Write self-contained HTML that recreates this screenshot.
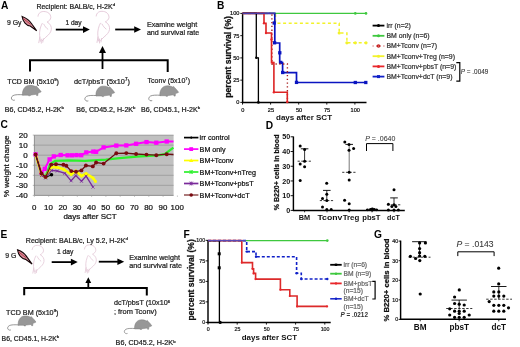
<!DOCTYPE html>
<html><head><meta charset="utf-8"><style>
html,body{margin:0;padding:0;background:#fff;width:520px;height:347px;overflow:hidden}
svg{display:block;font-family:"Liberation Sans", sans-serif;filter:blur(0.3px)}
</style></head><body>
<svg width="520" height="347" viewBox="0 0 520 347">
<rect width="520" height="347" fill="#fff"/>
<text x="1" y="8.7" font-size="10.2" font-weight="bold" text-anchor="start" fill="#000"  >A</text>
<text x="216.9" y="8.7" font-size="10.2" font-weight="bold" text-anchor="start" fill="#000"  >B</text>
<text x="0.6" y="128.0" font-size="10.2" font-weight="bold" text-anchor="start" fill="#000"  >C</text>
<text x="265.8" y="129.0" font-size="10.2" font-weight="bold" text-anchor="start" fill="#000"  >D</text>
<text x="0.6" y="238.0" font-size="10.2" font-weight="bold" text-anchor="start" fill="#000"  >E</text>
<text x="183.6" y="237.7" font-size="10.2" font-weight="bold" text-anchor="start" fill="#000"  >F</text>
<text x="374.0" y="237.8" font-size="10.2" font-weight="bold" text-anchor="start" fill="#000"  >G</text>
<g transform="translate(-58.2 0.2) scale(1.0)" fill="none" stroke="#e2c4d4" stroke-width="0.85" stroke-linecap="round"><path d="M96.2,16 C96.5,12.5 99.5,11.2 102,11.3 C106,11.4 109,13.5 109,17.5 C108.8,19.5 107,21 105.3,21.8 C108.5,23.5 110,26.5 109.5,29.5 C109,32.5 107,34.5 104,37 L100.5,40.5"/><path d="M100.4,23.2 C98.5,26.5 97.5,31 97.8,35.2 L98.6,41"/><path d="M98,37 L97,42.5 M99.5,39 L99.5,43 M101.5,38.5 L101,42"/><path d="M102,24 C103,26 104.5,28 106,29"/></g>
<g transform="translate(0 0) scale(1.0)" fill="none" stroke="#e2c4d4" stroke-width="0.85" stroke-linecap="round"><path d="M96.2,16 C96.5,12.5 99.5,11.2 102,11.3 C106,11.4 109,13.5 109,17.5 C108.8,19.5 107,21 105.3,21.8 C108.5,23.5 110,26.5 109.5,29.5 C109,32.5 107,34.5 104,37 L100.5,40.5"/><path d="M100.4,23.2 C98.5,26.5 97.5,31 97.8,35.2 L98.6,41"/><path d="M98,37 L97,42.5 M99.5,39 L99.5,43 M101.5,38.5 L101,42"/><path d="M102,24 C103,26 104.5,28 106,29"/></g>
<g transform="translate(0 0) scale(1.0)"><path d="M22.1,16.4 C25.5,17.6 29.8,20.6 32,24.2 L36.7,30.7 L30.2,26.0 C26.5,25.6 22.8,21.8 22.1,16.4 Z" fill="#d8909c" stroke="#140406" stroke-width="1.1"/><path d="M23.6,18.8 L30.4,24.2" stroke="#b02838" stroke-width="0.8"/></g>
<line x1="55.8" y1="29.6" x2="83.5" y2="29.6" stroke="#000" stroke-width="1.8" />
<polygon points="83.00,26.30 89.80,29.60 83.00,32.90" fill="#000" />
<line x1="115.2" y1="29.5" x2="134.7" y2="29.5" stroke="#000" stroke-width="1.8" />
<polygon points="134.20,26.20 141.00,29.50 134.20,32.80" fill="#000" />
<polyline points="30.00,71.40 30.00,60.30 167.70,60.30 167.70,72.10" fill="none" stroke="#000" stroke-width="2.0" stroke-linejoin="miter" />
<line x1="102.5" y1="69.0" x2="102.5" y2="52.4" stroke="#000" stroke-width="1.8" />
<polygon points="99.00,52.90 102.50,46.00 106.00,52.90" fill="#000" />
<text x="36.4" y="9.1" font-size="7.0" font-weight="normal" text-anchor="start" fill="#222" stroke="#222" stroke-width="0.22" >Recipient: BALB/c, H-2K<tspan font-size="4.3" dy="-2.8">d</tspan></text>
<text x="6.9" y="24.8" font-size="6.9" font-weight="normal" text-anchor="start" fill="#222" stroke="#222" stroke-width="0.22" >9 Gy</text>
<text x="65.4" y="25.0" font-size="6.6" font-weight="normal" text-anchor="start" fill="#222" stroke="#222" stroke-width="0.22" >1 day</text>
<text x="146.9" y="26.9" font-size="7.15" font-weight="normal" text-anchor="start" fill="#222" stroke="#222" stroke-width="0.22" >Examine weight</text>
<text x="146.9" y="35.0" font-size="7.15" font-weight="normal" text-anchor="start" fill="#222" stroke="#222" stroke-width="0.22" >and survival rate</text>
<text x="7.3" y="83.5" font-size="7.1" font-weight="normal" text-anchor="start" fill="#222" stroke="#222" stroke-width="0.22" >TCD BM (5x10<tspan font-size="4.3" dy="-2.8">9</tspan><tspan dy="2.8">)</tspan></text>
<text x="74.0" y="83.8" font-size="7.35" font-weight="normal" text-anchor="start" fill="#222" stroke="#222" stroke-width="0.22" >dcT/pbsT (5x10<tspan font-size="4.6" dy="-2.8">7</tspan><tspan dy="2.8">)</tspan></text>
<text x="147.6" y="83.0" font-size="7.0" font-weight="normal" text-anchor="start" fill="#222" stroke="#222" stroke-width="0.22" >Tconv (5x10<tspan font-size="4.3" dy="-2.8">7</tspan><tspan dy="2.8">)</tspan></text>
<text x="4.8" y="112.0" font-size="7.1" font-weight="normal" text-anchor="start" fill="#222" stroke="#222" stroke-width="0.22" >B6, CD45.2, H-2K<tspan font-size="4.3" dy="-2.8">b</tspan></text>
<text x="76.3" y="112.0" font-size="7.1" font-weight="normal" text-anchor="start" fill="#222" stroke="#222" stroke-width="0.22" >B6, CD45.2, H-2K<tspan font-size="4.3" dy="-2.8">b</tspan></text>
<text x="141.0" y="112.0" font-size="7.1" font-weight="normal" text-anchor="start" fill="#222" stroke="#222" stroke-width="0.22" >B6, CD45.1, H-2K<tspan font-size="4.3" dy="-2.8">b</tspan></text>
<g transform="translate(0 0) scale(1.0)"><path d="M23.5,94.8 C19,94.5 15,94.5 13,95.6 C11,96.8 10.8,99 12.5,100 C13.2,100.4 14,100.4 14.8,100.1" fill="none" stroke="#7a7a7a" stroke-width="0.8"/><path d="M22.5,95.2 C22,90.5 24.5,85.8 28.8,85.4 C31.8,85.1 34,85.8 35.4,86.6 L36.2,85.9 L37.3,87.2 C38.6,88.4 40.3,90.3 41.2,91.8 C40.2,92.5 38.8,92.8 38,93.2 L37.8,95.6 L36.6,95.6 L36.3,94.3 L31,95 L30,95.8 L28.6,95.8 L28.6,95.2 Z" fill="#979797" stroke="#7a7a7a" stroke-width="0.5"/></g>
<g transform="translate(73.5 0.7999999999999972) scale(1.0)"><path d="M23.5,94.8 C19,94.5 15,94.5 13,95.6 C11,96.8 10.8,99 12.5,100 C13.2,100.4 14,100.4 14.8,100.1" fill="none" stroke="#7a7a7a" stroke-width="0.8"/><path d="M22.5,95.2 C22,90.5 24.5,85.8 28.8,85.4 C31.8,85.1 34,85.8 35.4,86.6 L36.2,85.9 L37.3,87.2 C38.6,88.4 40.3,90.3 41.2,91.8 C40.2,92.5 38.8,92.8 38,93.2 L37.8,95.6 L36.6,95.6 L36.3,94.3 L31,95 L30,95.8 L28.6,95.8 L28.6,95.2 Z" fill="#979797" stroke="#7a7a7a" stroke-width="0.5"/></g>
<g transform="translate(137.4 0.5) scale(1.0)"><path d="M23.5,94.8 C19,94.5 15,94.5 13,95.6 C11,96.8 10.8,99 12.5,100 C13.2,100.4 14,100.4 14.8,100.1" fill="none" stroke="#7a7a7a" stroke-width="0.8"/><path d="M22.5,95.2 C22,90.5 24.5,85.8 28.8,85.4 C31.8,85.1 34,85.8 35.4,86.6 L36.2,85.9 L37.3,87.2 C38.6,88.4 40.3,90.3 41.2,91.8 C40.2,92.5 38.8,92.8 38,93.2 L37.8,95.6 L36.6,95.6 L36.3,94.3 L31,95 L30,95.8 L28.6,95.8 L28.6,95.2 Z" fill="#979797" stroke="#7a7a7a" stroke-width="0.5"/></g>
<line x1="242.6" y1="13.0" x2="242.6" y2="103.2" stroke="#000" stroke-width="1.45" />
<line x1="242.0" y1="102.4" x2="366.5" y2="102.4" stroke="#000" stroke-width="1.45" />
<line x1="240.3" y1="13.400000000000006" x2="242.6" y2="13.400000000000006" stroke="#000" stroke-width="0.9" />
<text x="239.4" y="15.400000000000006" font-size="5.6" font-weight="normal" text-anchor="end" fill="#111" stroke="#111" stroke-width="0.22" >100</text>
<line x1="240.3" y1="35.650000000000006" x2="242.6" y2="35.650000000000006" stroke="#000" stroke-width="0.9" />
<text x="239.4" y="37.650000000000006" font-size="5.6" font-weight="normal" text-anchor="end" fill="#111" stroke="#111" stroke-width="0.22" >75</text>
<line x1="240.3" y1="57.900000000000006" x2="242.6" y2="57.900000000000006" stroke="#000" stroke-width="0.9" />
<text x="239.4" y="59.900000000000006" font-size="5.6" font-weight="normal" text-anchor="end" fill="#111" stroke="#111" stroke-width="0.22" >50</text>
<line x1="240.3" y1="80.15" x2="242.6" y2="80.15" stroke="#000" stroke-width="0.9" />
<text x="239.4" y="82.15" font-size="5.6" font-weight="normal" text-anchor="end" fill="#111" stroke="#111" stroke-width="0.22" >25</text>
<line x1="240.3" y1="102.4" x2="242.6" y2="102.4" stroke="#000" stroke-width="0.9" />
<text x="239.4" y="104.4" font-size="5.6" font-weight="normal" text-anchor="end" fill="#111" stroke="#111" stroke-width="0.22" >0</text>
<line x1="242.5" y1="102.4" x2="242.5" y2="104.6" stroke="#000" stroke-width="0.9" />
<text x="242.8" y="112.2" font-size="5.6" font-weight="normal" text-anchor="middle" fill="#111" stroke="#111" stroke-width="0.22" >0</text>
<line x1="270.6" y1="102.4" x2="270.6" y2="104.6" stroke="#000" stroke-width="0.9" />
<text x="270.90000000000003" y="112.2" font-size="5.6" font-weight="normal" text-anchor="middle" fill="#111" stroke="#111" stroke-width="0.22" >25</text>
<line x1="298.7" y1="102.4" x2="298.7" y2="104.6" stroke="#000" stroke-width="0.9" />
<text x="299.0" y="112.2" font-size="5.6" font-weight="normal" text-anchor="middle" fill="#111" stroke="#111" stroke-width="0.22" >50</text>
<line x1="326.8" y1="102.4" x2="326.8" y2="104.6" stroke="#000" stroke-width="0.9" />
<text x="327.1" y="112.2" font-size="5.6" font-weight="normal" text-anchor="middle" fill="#111" stroke="#111" stroke-width="0.22" >75</text>
<line x1="354.9" y1="102.4" x2="354.9" y2="104.6" stroke="#000" stroke-width="0.9" />
<text x="355.2" y="112.2" font-size="5.6" font-weight="normal" text-anchor="middle" fill="#111" stroke="#111" stroke-width="0.22" >100</text>
<text x="276.0" y="120.0" font-size="8.0" font-weight="bold" text-anchor="start" fill="#111"  >days after SCT</text>
<text x="228.3" y="56.9" font-size="8.6" font-weight="bold" text-anchor="middle" fill="#111" stroke="#111" stroke-width="0.25" transform="rotate(-90 228.3 56.9)" dominant-baseline="central">percent survival (%)</text>
<polyline points="242.50,13.40 366.00,13.40" fill="none" stroke="#3ec83e" stroke-width="1.3" stroke-linejoin="miter" />
<circle cx="355.30" cy="13.40" r="1.3" fill="#3ec83e" />
<circle cx="366.00" cy="13.40" r="1.3" fill="#3ec83e" />
<polyline points="242.50,13.40 275.50,13.40 275.50,23.20 339.20,23.20 339.20,33.00 346.90,33.00 346.90,42.80 366.00,42.80" fill="none" stroke="#f2f22a" stroke-width="1.5" stroke-linejoin="miter" stroke-dasharray="3 2.6"/>
<circle cx="339.20" cy="33.00" r="1.6" fill="#f2f22a" />
<circle cx="346.90" cy="42.80" r="1.6" fill="#f2f22a" />
<circle cx="355.30" cy="42.80" r="1.6" fill="#f2f22a" />
<circle cx="366.00" cy="42.80" r="1.6" fill="#f2f22a" />
<polyline points="242.50,13.40 274.80,13.40 274.80,43.00 279.70,43.00 279.70,62.60 282.60,62.60 282.60,72.60 296.50,72.60 296.50,82.50 366.00,82.50" fill="none" stroke="#0a14c0" stroke-width="1.7" stroke-linejoin="miter" />
<rect x="272.55" y="21.35" width="3.3" height="3.3" fill="#0a14c0"/>
<rect x="272.95" y="41.15" width="3.3" height="3.3" fill="#0a14c0"/>
<rect x="278.15" y="51.15" width="3.3" height="3.3" fill="#0a14c0"/>
<rect x="279.05" y="60.75" width="3.3" height="3.3" fill="#0a14c0"/>
<rect x="281.05" y="70.85" width="3.3" height="3.3" fill="#0a14c0"/>
<rect x="294.85" y="80.75" width="3.3" height="3.3" fill="#0a14c0"/>
<rect x="353.65" y="80.85" width="3.3" height="3.3" fill="#0a14c0"/>
<rect x="364.15" y="80.85" width="3.3" height="3.3" fill="#0a14c0"/>
<polyline points="242.50,13.40 271.90,13.40 271.90,64.00 287.40,64.00 287.40,102.40" fill="none" stroke="#a82020" stroke-width="1.4" stroke-linejoin="miter" stroke-dasharray="1.3 2.5"/>
<polyline points="242.50,13.40 264.00,13.40 264.00,23.30 266.00,23.30 266.00,33.00 271.50,33.00 271.50,62.60 273.90,62.60 273.90,92.30 287.30,92.30 287.30,102.40" fill="none" stroke="#dc2424" stroke-width="1.6" stroke-linejoin="miter" />
<circle cx="264.00" cy="23.30" r="1.2" fill="#e8262a" />
<circle cx="266.00" cy="33.00" r="1.2" fill="#e8262a" />
<circle cx="271.50" cy="39.50" r="1.2" fill="#e8262a" />
<circle cx="272.50" cy="62.60" r="1.2" fill="#e8262a" />
<circle cx="273.90" cy="92.30" r="1.2" fill="#e8262a" />
<circle cx="287.30" cy="102.00" r="1.2" fill="#e8262a" />
<polyline points="242.50,13.40 256.30,13.40 256.30,57.80 258.40,57.80 258.40,102.40" fill="none" stroke="#000" stroke-width="1.3" stroke-linejoin="miter" />
<circle cx="256.30" cy="57.80" r="1.2" fill="#000" />
<circle cx="258.40" cy="102.40" r="1.4" fill="#000" />
<line x1="242.5" y1="13.4" x2="274.8" y2="13.4" stroke="#4a3aa8" stroke-width="1.4" />
<line x1="372.6" y1="25.6" x2="384.4" y2="25.6" stroke="#000" stroke-width="1.8" />
<circle cx="378.50" cy="25.60" r="1.5" fill="#000" />
<text x="386.5" y="28.0" font-size="6.9" font-weight="normal" text-anchor="start" fill="#333" stroke="#333" stroke-width="0.22" >irr (n=2)</text>
<line x1="372.6" y1="35.8" x2="384.4" y2="35.8" stroke="#3ec83e" stroke-width="1.8" />
<circle cx="378.50" cy="35.80" r="1.5" fill="#3ec83e" />
<text x="386.5" y="38.199999999999996" font-size="6.9" font-weight="normal" text-anchor="start" fill="#333" stroke="#333" stroke-width="0.22" >BM only (n=6)</text>
<line x1="372.6" y1="46.0" x2="384.4" y2="46.0" stroke="#c03030" stroke-width="1.0" stroke-dasharray="1 2.6"/>
<circle cx="378.50" cy="46.00" r="1.8" fill="#c42020" />
<circle cx="378.50" cy="46.00" r="0.5" fill="#f0a0a0" />
<text x="386.5" y="48.4" font-size="6.9" font-weight="normal" text-anchor="start" fill="#333" stroke="#333" stroke-width="0.22" >BM+Tconv (n=7)</text>
<line x1="372.6" y1="56.2" x2="384.4" y2="56.2" stroke="#f2f22a" stroke-width="1.8" />
<circle cx="378.50" cy="56.20" r="1.5" fill="#f2f22a" />
<text x="386.5" y="58.6" font-size="6.9" font-weight="normal" text-anchor="start" fill="#333" stroke="#333" stroke-width="0.22" >BM+Tconv+Treg (n=9)</text>
<line x1="372.6" y1="66.4" x2="384.4" y2="66.4" stroke="#e8262a" stroke-width="1.8" />
<circle cx="378.50" cy="66.40" r="1.5" fill="#e8262a" />
<text x="386.5" y="68.80000000000001" font-size="6.9" font-weight="normal" text-anchor="start" fill="#333" stroke="#333" stroke-width="0.22" >BM+Tconv+pbsT (n=9)</text>
<line x1="372.6" y1="76.6" x2="384.4" y2="76.6" stroke="#1020c8" stroke-width="1.8" />
<rect x="377.00" y="75.10" width="3.0" height="3.0" fill="#1020c8"/>
<text x="386.5" y="79.0" font-size="6.9" font-weight="normal" text-anchor="start" fill="#333" stroke="#333" stroke-width="0.22" >BM+Tconv+dcT (n=9)</text>
<polyline points="456.30,62.70 459.80,62.70 459.80,81.10 456.30,81.10" fill="none" stroke="#000" stroke-width="1.2" stroke-linejoin="miter" />
<text x="460.8" y="74.3" font-size="6.4" font-weight="normal" text-anchor="start" fill="#333" stroke="#333" stroke-width="0.1" ><tspan font-style="italic">P</tspan> = .0049</text>
<rect x="34.4" y="135.2" width="139.2" height="60.20000000000002" fill="#c0c0c0"/>
<line x1="34.4" y1="145.14999999999998" x2="173.6" y2="145.14999999999998" stroke="#8c8c8c" stroke-width="0.6" />
<line x1="34.4" y1="155.2" x2="173.6" y2="155.2" stroke="#8c8c8c" stroke-width="0.6" />
<line x1="34.4" y1="165.25" x2="173.6" y2="165.25" stroke="#8c8c8c" stroke-width="0.6" />
<line x1="34.4" y1="175.29999999999998" x2="173.6" y2="175.29999999999998" stroke="#8c8c8c" stroke-width="0.6" />
<line x1="34.4" y1="185.35" x2="173.6" y2="185.35" stroke="#8c8c8c" stroke-width="0.6" />
<line x1="34.4" y1="135.2" x2="173.6" y2="135.2" stroke="#8c8c8c" stroke-width="0.8" />
<line x1="34.4" y1="195.4" x2="173.6" y2="195.4" stroke="#7c7c7c" stroke-width="0.8" />
<line x1="34.4" y1="135.2" x2="34.4" y2="195.4" stroke="#7c7c7c" stroke-width="0.8" />
<text x="27.6" y="137.9" font-size="8.0" font-weight="normal" text-anchor="end" fill="#111" stroke="#111" stroke-width="0.22" >20</text>
<line x1="32.8" y1="135.1" x2="34.4" y2="135.1" stroke="#888" stroke-width="0.6" />
<text x="27.6" y="147.95" font-size="8.0" font-weight="normal" text-anchor="end" fill="#111" stroke="#111" stroke-width="0.22" >10</text>
<line x1="32.8" y1="145.14999999999998" x2="34.4" y2="145.14999999999998" stroke="#888" stroke-width="0.6" />
<text x="27.6" y="158.0" font-size="8.0" font-weight="normal" text-anchor="end" fill="#111" stroke="#111" stroke-width="0.22" >0</text>
<line x1="32.8" y1="155.2" x2="34.4" y2="155.2" stroke="#888" stroke-width="0.6" />
<text x="27.6" y="168.05" font-size="8.0" font-weight="normal" text-anchor="end" fill="#111" stroke="#111" stroke-width="0.22" >-10</text>
<line x1="32.8" y1="165.25" x2="34.4" y2="165.25" stroke="#888" stroke-width="0.6" />
<text x="27.6" y="178.1" font-size="8.0" font-weight="normal" text-anchor="end" fill="#111" stroke="#111" stroke-width="0.22" >-20</text>
<line x1="32.8" y1="175.29999999999998" x2="34.4" y2="175.29999999999998" stroke="#888" stroke-width="0.6" />
<text x="27.6" y="188.15" font-size="8.0" font-weight="normal" text-anchor="end" fill="#111" stroke="#111" stroke-width="0.22" >-30</text>
<line x1="32.8" y1="185.35" x2="34.4" y2="185.35" stroke="#888" stroke-width="0.6" />
<text x="27.6" y="198.2" font-size="8.0" font-weight="normal" text-anchor="end" fill="#111" stroke="#111" stroke-width="0.22" >-40</text>
<line x1="32.8" y1="195.39999999999998" x2="34.4" y2="195.39999999999998" stroke="#888" stroke-width="0.6" />
<text x="34.2" y="209.7" font-size="7.9" font-weight="normal" text-anchor="middle" fill="#111" stroke="#111" stroke-width="0.22" >0</text>
<line x1="34.4" y1="195.4" x2="34.4" y2="197" stroke="#999" stroke-width="0.5" />
<text x="48.5" y="209.7" font-size="7.9" font-weight="normal" text-anchor="middle" fill="#111" stroke="#111" stroke-width="0.22" >10</text>
<line x1="48.699999999999996" y1="195.4" x2="48.699999999999996" y2="197" stroke="#999" stroke-width="0.5" />
<text x="62.8" y="209.7" font-size="7.9" font-weight="normal" text-anchor="middle" fill="#111" stroke="#111" stroke-width="0.22" >20</text>
<line x1="62.99999999999999" y1="195.4" x2="62.99999999999999" y2="197" stroke="#999" stroke-width="0.5" />
<text x="77.10000000000001" y="209.7" font-size="7.9" font-weight="normal" text-anchor="middle" fill="#111" stroke="#111" stroke-width="0.22" >30</text>
<line x1="77.30000000000001" y1="195.4" x2="77.30000000000001" y2="197" stroke="#999" stroke-width="0.5" />
<text x="91.39999999999999" y="209.7" font-size="7.9" font-weight="normal" text-anchor="middle" fill="#111" stroke="#111" stroke-width="0.22" >40</text>
<line x1="91.6" y1="195.4" x2="91.6" y2="197" stroke="#999" stroke-width="0.5" />
<text x="105.7" y="209.7" font-size="7.9" font-weight="normal" text-anchor="middle" fill="#111" stroke="#111" stroke-width="0.22" >50</text>
<line x1="105.9" y1="195.4" x2="105.9" y2="197" stroke="#999" stroke-width="0.5" />
<text x="120.0" y="209.7" font-size="7.9" font-weight="normal" text-anchor="middle" fill="#111" stroke="#111" stroke-width="0.22" >60</text>
<line x1="120.2" y1="195.4" x2="120.2" y2="197" stroke="#999" stroke-width="0.5" />
<text x="134.29999999999998" y="209.7" font-size="7.9" font-weight="normal" text-anchor="middle" fill="#111" stroke="#111" stroke-width="0.22" >70</text>
<line x1="134.5" y1="195.4" x2="134.5" y2="197" stroke="#999" stroke-width="0.5" />
<text x="148.59999999999997" y="209.7" font-size="7.9" font-weight="normal" text-anchor="middle" fill="#111" stroke="#111" stroke-width="0.22" >80</text>
<line x1="148.79999999999998" y1="195.4" x2="148.79999999999998" y2="197" stroke="#999" stroke-width="0.5" />
<text x="162.89999999999998" y="209.7" font-size="7.9" font-weight="normal" text-anchor="middle" fill="#111" stroke="#111" stroke-width="0.22" >90</text>
<line x1="163.1" y1="195.4" x2="163.1" y2="197" stroke="#999" stroke-width="0.5" />
<text x="177.2" y="209.7" font-size="7.9" font-weight="normal" text-anchor="middle" fill="#111" stroke="#111" stroke-width="0.22" >100</text>
<line x1="177.4" y1="195.4" x2="177.4" y2="197" stroke="#999" stroke-width="0.5" />
<text x="63.4" y="218.7" font-size="8.0" font-weight="normal" text-anchor="start" fill="#111" stroke="#111" stroke-width="0.22" >days after SCT</text>
<text x="7.0" y="166.3" font-size="8.1" font-weight="normal" text-anchor="middle" fill="#111" stroke="#111" stroke-width="0.22" transform="rotate(-90 7.0 166.3)" dominant-baseline="central">% weight change</text>
<polyline points="41.50,174.00 45.60,176.50 50.30,164.00 55.20,160.80 69.00,160.30 85.00,160.80 105.80,159.70 119.60,158.20 136.90,156.60 157.70,155.40 164.60,154.10 173.40,147.60" fill="none" stroke="#2cf02c" stroke-width="2.2" stroke-linejoin="miter" />
<polyline points="35.60,154.40 41.50,172.50 44.80,168.80 49.60,159.40 53.80,156.40 60.70,155.00 67.60,155.30 72.00,155.30 76.50,155.10 81.20,155.20 86.30,152.40 93.30,151.60 96.10,151.80 103.60,147.40 116.30,145.60 126.30,145.40 136.10,143.80 146.50,142.10 156.30,142.70 166.70,141.50 173.50,141.50" fill="none" stroke="#ff00ff" stroke-width="2.0" stroke-linejoin="miter" />
<rect x="33.45" y="152.25" width="4.3" height="4.3" fill="#ff00ff"/>
<rect x="39.35" y="170.35" width="4.3" height="4.3" fill="#ff00ff"/>
<rect x="42.65" y="166.65" width="4.3" height="4.3" fill="#ff00ff"/>
<rect x="47.45" y="157.25" width="4.3" height="4.3" fill="#ff00ff"/>
<rect x="51.65" y="154.25" width="4.3" height="4.3" fill="#ff00ff"/>
<rect x="58.55" y="152.85" width="4.3" height="4.3" fill="#ff00ff"/>
<rect x="65.45" y="153.15" width="4.3" height="4.3" fill="#ff00ff"/>
<rect x="69.85" y="153.15" width="4.3" height="4.3" fill="#ff00ff"/>
<rect x="74.35" y="152.95" width="4.3" height="4.3" fill="#ff00ff"/>
<rect x="79.05" y="153.05" width="4.3" height="4.3" fill="#ff00ff"/>
<rect x="84.15" y="150.25" width="4.3" height="4.3" fill="#ff00ff"/>
<rect x="91.15" y="149.45" width="4.3" height="4.3" fill="#ff00ff"/>
<rect x="93.95" y="149.65" width="4.3" height="4.3" fill="#ff00ff"/>
<rect x="101.45" y="145.25" width="4.3" height="4.3" fill="#ff00ff"/>
<rect x="114.15" y="143.45" width="4.3" height="4.3" fill="#ff00ff"/>
<rect x="124.15" y="143.25" width="4.3" height="4.3" fill="#ff00ff"/>
<rect x="133.95" y="141.65" width="4.3" height="4.3" fill="#ff00ff"/>
<rect x="144.35" y="139.95" width="4.3" height="4.3" fill="#ff00ff"/>
<rect x="154.15" y="140.55" width="4.3" height="4.3" fill="#ff00ff"/>
<rect x="164.55" y="139.35" width="4.3" height="4.3" fill="#ff00ff"/>
<polyline points="35.60,154.40 41.50,175.00 45.60,177.50 51.30,167.00 57.20,167.20 63.60,169.20 71.10,174.50 75.80,171.00 81.50,176.00 86.10,173.60 93.00,178.00 95.50,181.50" fill="none" stroke="#ffff00" stroke-width="2.6" stroke-linejoin="miter" />
<circle cx="35.60" cy="154.40" r="1.5" fill="#ffff00" />
<circle cx="41.50" cy="175.00" r="1.5" fill="#ffff00" />
<circle cx="45.60" cy="177.50" r="1.5" fill="#ffff00" />
<circle cx="51.30" cy="167.00" r="1.5" fill="#ffff00" />
<circle cx="57.20" cy="167.20" r="1.5" fill="#ffff00" />
<circle cx="63.60" cy="169.20" r="1.5" fill="#ffff00" />
<circle cx="71.10" cy="174.50" r="1.5" fill="#ffff00" />
<circle cx="75.80" cy="171.00" r="1.5" fill="#ffff00" />
<circle cx="81.50" cy="176.00" r="1.5" fill="#ffff00" />
<circle cx="86.10" cy="173.60" r="1.5" fill="#ffff00" />
<circle cx="93.00" cy="178.00" r="1.5" fill="#ffff00" />
<circle cx="95.50" cy="181.50" r="1.5" fill="#ffff00" />
<polyline points="35.60,154.40 41.50,175.50 45.60,178.00 51.50,170.40 57.30,171.00 64.80,173.30 71.10,180.80 75.80,175.60 81.50,181.30 86.10,176.10 93.00,187.10" fill="none" stroke="#7a2a9a" stroke-width="1.3" stroke-linejoin="miter" />
<path d="M40.0,174.0 L43.0,177.0 M40.0,177.0 L43.0,174.0" stroke="#7a2a9a" stroke-width="0.8"/>
<path d="M44.1,176.5 L47.1,179.5 M44.1,179.5 L47.1,176.5" stroke="#7a2a9a" stroke-width="0.8"/>
<path d="M50.0,168.9 L53.0,171.9 M50.0,171.9 L53.0,168.9" stroke="#7a2a9a" stroke-width="0.8"/>
<path d="M55.8,169.5 L58.8,172.5 M55.8,172.5 L58.8,169.5" stroke="#7a2a9a" stroke-width="0.8"/>
<path d="M63.3,171.8 L66.3,174.8 M63.3,174.8 L66.3,171.8" stroke="#7a2a9a" stroke-width="0.8"/>
<path d="M69.6,179.3 L72.6,182.3 M69.6,182.3 L72.6,179.3" stroke="#7a2a9a" stroke-width="0.8"/>
<path d="M74.3,174.1 L77.3,177.1 M74.3,177.1 L77.3,174.1" stroke="#7a2a9a" stroke-width="0.8"/>
<path d="M80.0,179.8 L83.0,182.8 M80.0,182.8 L83.0,179.8" stroke="#7a2a9a" stroke-width="0.8"/>
<path d="M84.6,174.6 L87.6,177.6 M84.6,177.6 L87.6,174.6" stroke="#7a2a9a" stroke-width="0.8"/>
<path d="M91.5,185.6 L94.5,188.6 M91.5,188.6 L94.5,185.6" stroke="#7a2a9a" stroke-width="0.8"/>
<polyline points="35.60,154.40 41.50,173.50 45.60,177.50 51.50,174.80" fill="none" stroke="#000" stroke-width="1.0" stroke-linejoin="miter" />
<circle cx="51.50" cy="174.80" r="1.8" fill="#000" />
<polyline points="35.60,154.40 41.50,173.40 45.60,176.90 51.30,164.60 56.00,164.20 63.40,164.80 66.30,165.80 71.30,171.10 76.00,171.70 81.40,170.40 85.90,165.50 92.80,166.40 96.10,162.50 103.60,163.60 116.30,153.30 126.30,153.10 136.10,154.00 146.50,154.60 156.30,155.20 166.70,154.20 173.50,154.50" fill="none" stroke="#6a1010" stroke-width="1.3" stroke-linejoin="miter" />
<circle cx="35.60" cy="154.40" r="1.95" fill="#7a0a10" />
<circle cx="41.50" cy="173.40" r="1.95" fill="#7a0a10" />
<circle cx="45.60" cy="176.90" r="1.95" fill="#7a0a10" />
<circle cx="51.30" cy="164.60" r="1.95" fill="#7a0a10" />
<circle cx="56.00" cy="164.20" r="1.95" fill="#7a0a10" />
<circle cx="63.40" cy="164.80" r="1.95" fill="#7a0a10" />
<circle cx="66.30" cy="165.80" r="1.95" fill="#7a0a10" />
<circle cx="71.30" cy="171.10" r="1.95" fill="#7a0a10" />
<circle cx="76.00" cy="171.70" r="1.95" fill="#7a0a10" />
<circle cx="81.40" cy="170.40" r="1.95" fill="#7a0a10" />
<circle cx="85.90" cy="165.50" r="1.95" fill="#7a0a10" />
<circle cx="92.80" cy="166.40" r="1.95" fill="#7a0a10" />
<circle cx="96.10" cy="162.50" r="1.95" fill="#7a0a10" />
<circle cx="103.60" cy="163.60" r="1.95" fill="#7a0a10" />
<circle cx="116.30" cy="153.30" r="1.95" fill="#7a0a10" />
<circle cx="126.30" cy="153.10" r="1.95" fill="#7a0a10" />
<circle cx="136.10" cy="154.00" r="1.95" fill="#7a0a10" />
<circle cx="146.50" cy="154.60" r="1.95" fill="#7a0a10" />
<circle cx="156.30" cy="155.20" r="1.95" fill="#7a0a10" />
<circle cx="166.70" cy="154.20" r="1.95" fill="#7a0a10" />
<line x1="184" y1="137.6" x2="198.4" y2="137.6" stroke="#000" stroke-width="1.7" />
<polygon points="191.20,136.20 192.60,137.60 191.20,139.00 189.80,137.60" fill="#000" />
<text x="199.6" y="140.1" font-size="7.2" font-weight="normal" text-anchor="start" fill="#111" stroke="#111" stroke-width="0.22" >irr control</text>
<line x1="184" y1="149.1" x2="198.4" y2="149.1" stroke="#ff00ff" stroke-width="1.7" />
<rect x="189.30" y="147.20" width="3.8" height="3.8" fill="#ff00ff"/>
<text x="199.6" y="151.6" font-size="7.2" font-weight="normal" text-anchor="start" fill="#111" stroke="#111" stroke-width="0.22" >BM only</text>
<line x1="184" y1="160.5" x2="198.4" y2="160.5" stroke="#ffff00" stroke-width="1.7" />
<polygon points="191.20,158.50 193.30,162.00 189.10,162.00" fill="#ffff00" />
<text x="199.6" y="163.0" font-size="7.2" font-weight="normal" text-anchor="start" fill="#111" stroke="#111" stroke-width="0.22" >BM+Tconv</text>
<line x1="184" y1="172.0" x2="198.4" y2="172.0" stroke="#2cf02c" stroke-width="1.7" />
<path d="M189.6,170.2 L192.8,173.8 M189.6,173.8 L192.8,170.2 M191.2,170.0 L191.2,174.0" stroke="#2cf02c" stroke-width="0.9"/>
<text x="199.6" y="174.5" font-size="7.2" font-weight="normal" text-anchor="start" fill="#111" stroke="#111" stroke-width="0.22" >BM+Tconv+nTreg</text>
<line x1="184" y1="183.5" x2="198.4" y2="183.5" stroke="#7a2a9a" stroke-width="1.7" />
<path d="M189.6,181.7 L192.8,185.3 M189.6,185.3 L192.8,181.7 M191.2,181.5 L191.2,185.5" stroke="#7a2a9a" stroke-width="0.9"/>
<text x="199.6" y="186.0" font-size="7.2" font-weight="normal" text-anchor="start" fill="#111" stroke="#111" stroke-width="0.22" >BM+Tconv+pbsT</text>
<line x1="184" y1="195.0" x2="198.4" y2="195.0" stroke="#6a1010" stroke-width="1.1" />
<circle cx="191.20" cy="195.00" r="1.8" fill="#7a0a10" />
<text x="199.6" y="197.5" font-size="7.2" font-weight="normal" text-anchor="start" fill="#111" stroke="#111" stroke-width="0.22" >BM+Tconv+dcT</text>
<line x1="293.4" y1="136.5" x2="293.4" y2="210.9" stroke="#000" stroke-width="1.45" />
<line x1="292.9" y1="210.4" x2="404.8" y2="210.4" stroke="#000" stroke-width="1.45" />
<line x1="290.6" y1="136.8" x2="293.4" y2="136.8" stroke="#000" stroke-width="0.9" />
<text x="290.2" y="139.4" font-size="7.2" font-weight="bold" text-anchor="end" fill="#111"  >50</text>
<line x1="290.6" y1="151.52" x2="293.4" y2="151.52" stroke="#000" stroke-width="0.9" />
<text x="290.2" y="154.12" font-size="7.2" font-weight="bold" text-anchor="end" fill="#111"  >40</text>
<line x1="290.6" y1="166.24" x2="293.4" y2="166.24" stroke="#000" stroke-width="0.9" />
<text x="290.2" y="168.84" font-size="7.2" font-weight="bold" text-anchor="end" fill="#111"  >30</text>
<line x1="290.6" y1="180.96" x2="293.4" y2="180.96" stroke="#000" stroke-width="0.9" />
<text x="290.2" y="183.56" font-size="7.2" font-weight="bold" text-anchor="end" fill="#111"  >20</text>
<line x1="290.6" y1="195.68" x2="293.4" y2="195.68" stroke="#000" stroke-width="0.9" />
<text x="290.2" y="198.28" font-size="7.2" font-weight="bold" text-anchor="end" fill="#111"  >10</text>
<line x1="290.6" y1="210.4" x2="293.4" y2="210.4" stroke="#000" stroke-width="0.9" />
<text x="290.2" y="213.0" font-size="7.2" font-weight="bold" text-anchor="end" fill="#111"  >0</text>
<line x1="304.6" y1="210.4" x2="304.6" y2="212.3" stroke="#000" stroke-width="0.8" />
<line x1="327.0" y1="210.4" x2="327.0" y2="212.3" stroke="#000" stroke-width="0.8" />
<line x1="349.2" y1="210.4" x2="349.2" y2="212.3" stroke="#000" stroke-width="0.8" />
<line x1="372.0" y1="210.4" x2="372.0" y2="212.3" stroke="#000" stroke-width="0.8" />
<line x1="394.0" y1="210.4" x2="394.0" y2="212.3" stroke="#000" stroke-width="0.8" />
<text x="304.5" y="220.3" font-size="7.4" font-weight="bold" text-anchor="middle" fill="#111"  textLength="11.4" lengthAdjust="spacingAndGlyphs">BM</text>
<text x="329.9" y="220.3" font-size="7.4" font-weight="bold" text-anchor="middle" fill="#111"  textLength="25.0" lengthAdjust="spacingAndGlyphs">Tconv</text>
<text x="351.0" y="220.3" font-size="7.4" font-weight="bold" text-anchor="middle" fill="#111"  textLength="16.6" lengthAdjust="spacingAndGlyphs">Treg</text>
<text x="371.4" y="220.3" font-size="7.4" font-weight="bold" text-anchor="middle" fill="#111"  textLength="18.2" lengthAdjust="spacingAndGlyphs">pbsT</text>
<text x="393.4" y="220.3" font-size="7.4" font-weight="bold" text-anchor="middle" fill="#111"  textLength="12.7" lengthAdjust="spacingAndGlyphs">dcT</text>
<text x="276.4" y="172.4" font-size="7.0" font-weight="bold" text-anchor="middle" fill="#111" stroke="#111" stroke-width="0.25" transform="rotate(-90 276.4 172.4)" dominant-baseline="central">% B220+ cells in blood</text>
<line x1="297.6" y1="161.2" x2="311.6" y2="161.2" stroke="#000" stroke-width="0.8" stroke-dasharray="2.2 1.5"/>
<line x1="304.6" y1="161.2" x2="304.6" y2="148.8" stroke="#000" stroke-width="0.8" />
<line x1="300.8" y1="148.8" x2="308.40000000000003" y2="148.8" stroke="#000" stroke-width="0.9" />
<circle cx="300.20" cy="146.10" r="1.5" fill="#000" />
<circle cx="304.60" cy="149.60" r="1.5" fill="#000" />
<circle cx="304.60" cy="161.20" r="1.5" fill="#000" />
<circle cx="300.20" cy="164.00" r="1.5" fill="#000" />
<circle cx="304.60" cy="166.70" r="1.5" fill="#000" />
<circle cx="300.20" cy="180.60" r="1.5" fill="#000" />
<line x1="319.8" y1="200.6" x2="333.8" y2="200.6" stroke="#000" stroke-width="0.8" stroke-dasharray="2.2 1.5"/>
<line x1="326.8" y1="200.6" x2="326.8" y2="190.4" stroke="#000" stroke-width="0.8" />
<line x1="323.0" y1="190.4" x2="330.6" y2="190.4" stroke="#000" stroke-width="0.9" />
<circle cx="326.70" cy="183.30" r="1.5" fill="#000" />
<circle cx="326.80" cy="194.20" r="1.5" fill="#000" />
<circle cx="322.50" cy="198.60" r="1.5" fill="#000" />
<circle cx="326.80" cy="200.60" r="1.5" fill="#000" />
<circle cx="322.50" cy="207.10" r="1.5" fill="#000" />
<circle cx="326.80" cy="209.60" r="1.5" fill="#000" />
<circle cx="331.20" cy="209.60" r="1.5" fill="#000" />
<line x1="342.2" y1="172.3" x2="356.2" y2="172.3" stroke="#000" stroke-width="0.8" stroke-dasharray="2.2 1.5"/>
<line x1="349.2" y1="172.3" x2="349.2" y2="144.4" stroke="#555" stroke-width="0.8" />
<line x1="345.4" y1="144.4" x2="353.0" y2="144.4" stroke="#000" stroke-width="0.9" />
<circle cx="344.80" cy="142.10" r="1.5" fill="#000" />
<circle cx="349.00" cy="144.40" r="1.5" fill="#000" />
<circle cx="353.60" cy="148.50" r="1.5" fill="#000" />
<circle cx="349.00" cy="150.20" r="1.5" fill="#000" />
<circle cx="349.20" cy="172.30" r="1.5" fill="#000" />
<circle cx="349.20" cy="180.10" r="1.5" fill="#000" />
<circle cx="344.60" cy="200.20" r="1.5" fill="#000" />
<circle cx="349.20" cy="203.70" r="1.5" fill="#000" />
<circle cx="349.20" cy="210.00" r="1.5" fill="#000" />
<line x1="366" y1="209.5" x2="378" y2="209.5" stroke="#000" stroke-width="0.8" stroke-dasharray="2 1.4"/>
<circle cx="367.50" cy="209.80" r="1.4" fill="#000" />
<circle cx="370.50" cy="209.30" r="1.4" fill="#000" />
<circle cx="372.30" cy="208.80" r="1.4" fill="#000" />
<circle cx="374.20" cy="209.30" r="1.4" fill="#000" />
<circle cx="376.50" cy="209.80" r="1.4" fill="#000" />
<circle cx="372.30" cy="210.00" r="1.4" fill="#000" />
<line x1="387.0" y1="204.8" x2="401.0" y2="204.8" stroke="#000" stroke-width="0.8" stroke-dasharray="2.2 1.5"/>
<line x1="394.0" y1="204.8" x2="394.0" y2="197.9" stroke="#000" stroke-width="0.8" />
<line x1="390.2" y1="197.9" x2="397.8" y2="197.9" stroke="#000" stroke-width="0.9" />
<circle cx="394.00" cy="189.80" r="1.5" fill="#000" />
<circle cx="388.40" cy="204.20" r="1.5" fill="#000" />
<circle cx="394.00" cy="204.80" r="1.5" fill="#000" />
<circle cx="391.90" cy="206.50" r="1.5" fill="#000" />
<circle cx="395.90" cy="206.50" r="1.5" fill="#000" />
<circle cx="388.40" cy="210.00" r="1.5" fill="#000" />
<circle cx="394.00" cy="210.00" r="1.5" fill="#000" />
<circle cx="398.40" cy="210.00" r="1.5" fill="#000" />
<polyline points="366.50,151.00 366.50,143.60 392.90,143.60 392.90,151.00" fill="none" stroke="#000" stroke-width="1.0" stroke-linejoin="miter" />
<text x="365.2" y="141.3" font-size="7.0" font-weight="normal" text-anchor="start" fill="#333" stroke="#333" stroke-width="0.05" ><tspan font-style="italic">P</tspan> = .0640</text>
<g transform="translate(-4.6 233.4) scale(1.0)"><path d="M22.1,16.4 C25.5,17.6 29.8,20.6 32,24.2 L36.7,30.7 L30.2,26.0 C26.5,25.6 22.8,21.8 22.1,16.4 Z" fill="#d8909c" stroke="#140406" stroke-width="1.1"/><path d="M23.6,18.8 L30.4,24.2" stroke="#b02838" stroke-width="0.8"/></g>
<g transform="translate(-53.5 235.3) scale(0.89)" fill="none" stroke="#e2c4d4" stroke-width="0.85" stroke-linecap="round"><path d="M96.2,16 C96.5,12.5 99.5,11.2 102,11.3 C106,11.4 109,13.5 109,17.5 C108.8,19.5 107,21 105.3,21.8 C108.5,23.5 110,26.5 109.5,29.5 C109,32.5 107,34.5 104,37 L100.5,40.5"/><path d="M100.4,23.2 C98.5,26.5 97.5,31 97.8,35.2 L98.6,41"/><path d="M98,37 L97,42.5 M99.5,39 L99.5,43 M101.5,38.5 L101,42"/><path d="M102,24 C103,26 104.5,28 106,29"/></g>
<g transform="translate(-1.2 234.8) scale(0.89)" fill="none" stroke="#e2c4d4" stroke-width="0.85" stroke-linecap="round"><path d="M96.2,16 C96.5,12.5 99.5,11.2 102,11.3 C106,11.4 109,13.5 109,17.5 C108.8,19.5 107,21 105.3,21.8 C108.5,23.5 110,26.5 109.5,29.5 C109,32.5 107,34.5 104,37 L100.5,40.5"/><path d="M100.4,23.2 C98.5,26.5 97.5,31 97.8,35.2 L98.6,41"/><path d="M98,37 L97,42.5 M99.5,39 L99.5,43 M101.5,38.5 L101,42"/><path d="M102,24 C103,26 104.5,28 106,29"/></g>
<line x1="51.7" y1="262.1" x2="71.4" y2="262.1" stroke="#000" stroke-width="1.8" />
<polygon points="70.90,258.80 77.70,262.10 70.90,265.40" fill="#000" />
<line x1="98.8" y1="261.7" x2="117.9" y2="261.7" stroke="#000" stroke-width="1.8" />
<polygon points="117.40,258.40 124.20,261.70 117.40,265.00" fill="#000" />
<polyline points="24.20,295.20 24.20,288.00 146.80,288.00 146.80,295.50" fill="none" stroke="#000" stroke-width="2.0" stroke-linejoin="miter" />
<line x1="88.3" y1="287.6" x2="88.3" y2="282.59999999999997" stroke="#000" stroke-width="1.8" />
<polygon points="85.40,283.10 88.30,277.20 91.20,283.10" fill="#000" />
<text x="25.8" y="243.2" font-size="7.05" font-weight="normal" text-anchor="start" fill="#222" stroke="#222" stroke-width="0.22" >Recipient: BALB/c, Ly 5.2, H-2K<tspan font-size="4.3" dy="-2.8">d</tspan></text>
<text x="5.2" y="257.8" font-size="6.9" font-weight="normal" text-anchor="start" fill="#222" stroke="#222" stroke-width="0.22" >9 G</text>
<text x="56.9" y="254.4" font-size="6.7" font-weight="normal" text-anchor="start" fill="#222" stroke="#222" stroke-width="0.22" >1 day</text>
<text x="129.2" y="259.6" font-size="7.2" font-weight="normal" text-anchor="start" fill="#222" stroke="#222" stroke-width="0.22" >Examine weight</text>
<text x="129.2" y="268.0" font-size="7.2" font-weight="normal" text-anchor="start" fill="#222" stroke="#222" stroke-width="0.22" >and survival rate</text>
<text x="6.1" y="314.5" font-size="7.2" font-weight="normal" text-anchor="start" fill="#222" stroke="#222" stroke-width="0.22" >TCD BM (5x10<tspan font-size="4.3" dy="-2.8">9</tspan><tspan dy="2.8">)</tspan></text>
<text x="113.9" y="305.3" font-size="7.2" font-weight="normal" text-anchor="start" fill="#222" stroke="#222" stroke-width="0.22" >dcT/pbsT (10x10<tspan font-size="4.3" dy="-2.8">6</tspan></text>
<text x="113.9" y="313.6" font-size="7.45" font-weight="normal" text-anchor="start" fill="#222" stroke="#222" stroke-width="0.22" >; from Tconv)</text>
<text x="1.6" y="340.9" font-size="6.9" font-weight="normal" text-anchor="start" fill="#222" stroke="#222" stroke-width="0.22" >B6, CD45.1, H-2K<tspan font-size="4.3" dy="-2.8">b</tspan></text>
<text x="115.6" y="345.3" font-size="7.2" font-weight="normal" text-anchor="start" fill="#222" stroke="#222" stroke-width="0.22" >B6, CD45.2, H-2K<tspan font-size="4.3" dy="-2.8">b</tspan></text>
<g transform="translate(-3.1750000000000007 234.86499999999998) scale(0.95)"><path d="M23.5,94.8 C19,94.5 15,94.5 13,95.6 C11,96.8 10.8,99 12.5,100 C13.2,100.4 14,100.4 14.8,100.1" fill="none" stroke="#7a7a7a" stroke-width="0.8"/><path d="M22.5,95.2 C22,90.5 24.5,85.8 28.8,85.4 C31.8,85.1 34,85.8 35.4,86.6 L36.2,85.9 L37.3,87.2 C38.6,88.4 40.3,90.3 41.2,91.8 C40.2,92.5 38.8,92.8 38,93.2 L37.8,95.6 L36.6,95.6 L36.3,94.3 L31,95 L30,95.8 L28.6,95.8 L28.6,95.2 Z" fill="#979797" stroke="#7a7a7a" stroke-width="0.5"/></g>
<g transform="translate(113.89999999999999 241.324) scale(0.92)"><path d="M23.5,94.8 C19,94.5 15,94.5 13,95.6 C11,96.8 10.8,99 12.5,100 C13.2,100.4 14,100.4 14.8,100.1" fill="none" stroke="#7a7a7a" stroke-width="0.8"/><path d="M22.5,95.2 C22,90.5 24.5,85.8 28.8,85.4 C31.8,85.1 34,85.8 35.4,86.6 L36.2,85.9 L37.3,87.2 C38.6,88.4 40.3,90.3 41.2,91.8 C40.2,92.5 38.8,92.8 38,93.2 L37.8,95.6 L36.6,95.6 L36.3,94.3 L31,95 L30,95.8 L28.6,95.8 L28.6,95.2 Z" fill="#979797" stroke="#7a7a7a" stroke-width="0.5"/></g>
<line x1="208.0" y1="240.0" x2="208.0" y2="323.2" stroke="#000" stroke-width="1.45" />
<line x1="207.4" y1="322.4" x2="330.7" y2="322.4" stroke="#000" stroke-width="1.45" />
<line x1="205.6" y1="240.34999999999997" x2="208" y2="240.34999999999997" stroke="#000" stroke-width="0.9" />
<text x="205.2" y="242.24999999999997" font-size="5.3" font-weight="normal" text-anchor="end" fill="#222" stroke="#222" stroke-width="0.22" >100</text>
<line x1="205.6" y1="260.86249999999995" x2="208" y2="260.86249999999995" stroke="#000" stroke-width="0.9" />
<text x="205.2" y="262.76249999999993" font-size="5.3" font-weight="normal" text-anchor="end" fill="#222" stroke="#222" stroke-width="0.22" >75</text>
<line x1="205.6" y1="281.375" x2="208" y2="281.375" stroke="#000" stroke-width="0.9" />
<text x="205.2" y="283.275" font-size="5.3" font-weight="normal" text-anchor="end" fill="#222" stroke="#222" stroke-width="0.22" >50</text>
<line x1="205.6" y1="301.8875" x2="208" y2="301.8875" stroke="#000" stroke-width="0.9" />
<text x="205.2" y="303.78749999999997" font-size="5.3" font-weight="normal" text-anchor="end" fill="#222" stroke="#222" stroke-width="0.22" >25</text>
<line x1="205.6" y1="322.4" x2="208" y2="322.4" stroke="#000" stroke-width="0.9" />
<text x="205.2" y="324.29999999999995" font-size="5.3" font-weight="normal" text-anchor="end" fill="#222" stroke="#222" stroke-width="0.22" >0</text>
<line x1="208.0" y1="322.4" x2="208.0" y2="324.6" stroke="#000" stroke-width="0.9" />
<text x="208.3" y="331.0" font-size="5.3" font-weight="normal" text-anchor="middle" fill="#222" stroke="#222" stroke-width="0.22" >0</text>
<line x1="237.2" y1="322.4" x2="237.2" y2="324.6" stroke="#000" stroke-width="0.9" />
<text x="237.5" y="331.0" font-size="5.3" font-weight="normal" text-anchor="middle" fill="#222" stroke="#222" stroke-width="0.22" >25</text>
<line x1="266.4" y1="322.4" x2="266.4" y2="324.6" stroke="#000" stroke-width="0.9" />
<text x="266.7" y="331.0" font-size="5.3" font-weight="normal" text-anchor="middle" fill="#222" stroke="#222" stroke-width="0.22" >50</text>
<line x1="295.6" y1="322.4" x2="295.6" y2="324.6" stroke="#000" stroke-width="0.9" />
<text x="295.90000000000003" y="331.0" font-size="5.3" font-weight="normal" text-anchor="middle" fill="#222" stroke="#222" stroke-width="0.22" >75</text>
<line x1="324.8" y1="322.4" x2="324.8" y2="324.6" stroke="#000" stroke-width="0.9" />
<text x="325.1" y="331.0" font-size="5.3" font-weight="normal" text-anchor="middle" fill="#222" stroke="#222" stroke-width="0.22" >100</text>
<text x="241.8" y="340.2" font-size="7.9" font-weight="bold" text-anchor="start" fill="#111"  >days after SCT</text>
<text x="191.5" y="279.8" font-size="8.55" font-weight="bold" text-anchor="middle" fill="#111" stroke="#111" stroke-width="0.25" transform="rotate(-90 191.5 279.8)" dominant-baseline="central">percent survival (%)</text>
<polyline points="208.00,240.60 327.30,240.60" fill="none" stroke="#3ec83e" stroke-width="1.3" stroke-linejoin="miter" />
<circle cx="327.30" cy="240.60" r="1.3" fill="#3ec83e" />
<polyline points="208.00,240.60 246.70,240.60 246.70,251.60 256.00,251.60 256.00,256.80 296.60,256.80 296.60,273.20 301.30,273.20 301.30,279.00 327.30,279.00" fill="none" stroke="#1020c8" stroke-width="1.6" stroke-linejoin="miter" stroke-dasharray="3 2"/>
<circle cx="246.70" cy="251.60" r="1.2" fill="#1020c8" />
<circle cx="256.00" cy="256.80" r="1.2" fill="#1020c8" />
<circle cx="296.60" cy="273.20" r="1.2" fill="#1020c8" />
<circle cx="301.30" cy="279.00" r="1.2" fill="#1020c8" />
<circle cx="327.30" cy="279.00" r="1.2" fill="#1020c8" />
<polyline points="208.00,240.60 241.80,240.60 241.80,262.60 252.50,262.60 252.50,268.80 253.60,268.80 253.60,273.40 255.60,273.40 255.60,279.10 280.40,279.10 280.40,289.70 289.80,289.70 289.80,296.00 297.10,296.00 297.10,306.40 327.10,306.40" fill="none" stroke="#dc2a2a" stroke-width="1.6" stroke-linejoin="miter" />
<circle cx="241.80" cy="262.60" r="1.1" fill="#e8262a" />
<circle cx="252.50" cy="268.80" r="1.1" fill="#e8262a" />
<circle cx="253.60" cy="273.40" r="1.1" fill="#e8262a" />
<circle cx="255.60" cy="279.10" r="1.1" fill="#e8262a" />
<circle cx="280.40" cy="289.70" r="1.1" fill="#e8262a" />
<circle cx="289.80" cy="296.00" r="1.1" fill="#e8262a" />
<circle cx="297.10" cy="306.40" r="1.1" fill="#e8262a" />
<circle cx="327.10" cy="306.40" r="1.1" fill="#e8262a" />
<polyline points="208.00,240.60 219.40,240.60 219.40,322.40" fill="none" stroke="#000" stroke-width="1.3" stroke-linejoin="miter" />
<line x1="208.0" y1="240.6" x2="246" y2="240.6" stroke="#5a4ab8" stroke-width="1.4" />
<rect x="217.70" y="252.30" width="3.0" height="3.0" fill="#000"/>
<rect x="217.70" y="266.30" width="3.0" height="3.0" fill="#000"/>
<circle cx="220.20" cy="322.40" r="1.6" fill="#000" />
<line x1="330.2" y1="264.8" x2="341.7" y2="264.8" stroke="#000" stroke-width="1.8" />
<rect x="334.80" y="263.60" width="2.4" height="2.4" fill="#000"/>
<text x="343.5" y="267.1" font-size="6.7" font-weight="normal" text-anchor="start" fill="#666" stroke="#666" stroke-width="0.22" >irr (n=6)</text>
<line x1="330.2" y1="273.7" x2="341.7" y2="273.7" stroke="#3ec83e" stroke-width="1.8" />
<circle cx="336.00" cy="273.70" r="1.2" fill="#3ec83e" />
<text x="343.5" y="276.0" font-size="6.7" font-weight="normal" text-anchor="start" fill="#666" stroke="#666" stroke-width="0.22" >BM (n=9)</text>
<line x1="330.2" y1="283.4" x2="341.7" y2="283.4" stroke="#e8262a" stroke-width="1.8" />
<circle cx="336.00" cy="283.40" r="1.2" fill="#e8262a" />
<text x="343.5" y="285.7" font-size="6.7" font-weight="normal" text-anchor="start" fill="#666" stroke="#666" stroke-width="0.22" >BM+pbsT</text>
<line x1="330.2" y1="298.8" x2="341.7" y2="298.8" stroke="#1020c8" stroke-width="1.5" />
<circle cx="336.00" cy="298.80" r="1.2" fill="#1020c8" />
<text x="343.5" y="301.1" font-size="6.7" font-weight="normal" text-anchor="start" fill="#666" stroke="#666" stroke-width="0.22" >BM+dcT</text>
<text x="343.5" y="293.3" font-size="6.7" font-weight="normal" text-anchor="start" fill="#666" stroke="#666" stroke-width="0.22" >(n=15)</text>
<text x="343.5" y="308.6" font-size="6.7" font-weight="normal" text-anchor="start" fill="#666" stroke="#666" stroke-width="0.22" >(n=15)</text>
<polyline points="372.30,281.30 375.10,281.30 375.10,299.00 372.30,299.00" fill="none" stroke="#000" stroke-width="1.2" stroke-linejoin="miter" />
<text x="340.4" y="317.3" font-size="6.4" font-weight="bold" text-anchor="start" fill="#333"  ><tspan font-style="italic">P</tspan> = .0212</text>
<line x1="400.6" y1="240.6" x2="400.6" y2="319.9" stroke="#000" stroke-width="1.45" />
<line x1="400.1" y1="319.3" x2="506.0" y2="319.3" stroke="#000" stroke-width="1.45" />
<line x1="398.6" y1="241.11999999999998" x2="400.6" y2="241.11999999999998" stroke="#000" stroke-width="0.9" />
<text x="398.2" y="243.01999999999998" font-size="5.3" font-weight="normal" text-anchor="end" fill="#222" stroke="#222" stroke-width="0.22" >40</text>
<line x1="398.6" y1="260.69" x2="400.6" y2="260.69" stroke="#000" stroke-width="0.9" />
<text x="398.2" y="262.59" font-size="5.3" font-weight="normal" text-anchor="end" fill="#222" stroke="#222" stroke-width="0.22" >30</text>
<line x1="398.6" y1="280.26" x2="400.6" y2="280.26" stroke="#000" stroke-width="0.9" />
<text x="398.2" y="282.15999999999997" font-size="5.3" font-weight="normal" text-anchor="end" fill="#222" stroke="#222" stroke-width="0.22" >20</text>
<line x1="398.6" y1="299.83" x2="400.6" y2="299.83" stroke="#000" stroke-width="0.9" />
<text x="398.2" y="301.72999999999996" font-size="5.3" font-weight="normal" text-anchor="end" fill="#222" stroke="#222" stroke-width="0.22" >10</text>
<line x1="398.6" y1="319.4" x2="400.6" y2="319.4" stroke="#000" stroke-width="0.9" />
<text x="398.2" y="321.29999999999995" font-size="5.3" font-weight="normal" text-anchor="end" fill="#222" stroke="#222" stroke-width="0.22" >0</text>
<line x1="420.2" y1="319.3" x2="420.2" y2="321.3" stroke="#000" stroke-width="0.8" />
<text x="420.2" y="329.5" font-size="8.2" font-weight="bold" text-anchor="middle" fill="#111"  >BM</text>
<line x1="459.2" y1="319.3" x2="459.2" y2="321.3" stroke="#000" stroke-width="0.8" />
<text x="459.2" y="329.5" font-size="8.2" font-weight="bold" text-anchor="middle" fill="#111"  >pbsT</text>
<line x1="498.8" y1="319.3" x2="498.8" y2="321.3" stroke="#000" stroke-width="0.8" />
<text x="498.8" y="329.5" font-size="8.2" font-weight="bold" text-anchor="middle" fill="#111"  >dcT</text>
<text x="386.3" y="280.0" font-size="7.7" font-weight="bold" text-anchor="middle" fill="#111" stroke="#111" stroke-width="0.25" transform="rotate(-90 386.3 280.0)" dominant-baseline="central">% B220+ cells in blood</text>
<line x1="408.6" y1="257.2" x2="430.5" y2="257.2" stroke="#000" stroke-width="0.8" stroke-dasharray="2.4 1.6"/>
<line x1="419.6" y1="241.7" x2="419.6" y2="257.2" stroke="#000" stroke-width="0.8" />
<line x1="412.1" y1="241.7" x2="426.5" y2="241.7" stroke="#000" stroke-width="0.9" />
<circle cx="419.60" cy="242.90" r="1.6" fill="#000" />
<circle cx="425.40" cy="242.90" r="1.6" fill="#000" />
<circle cx="419.60" cy="248.60" r="1.6" fill="#000" />
<circle cx="419.60" cy="252.70" r="1.6" fill="#000" />
<circle cx="410.40" cy="256.30" r="1.6" fill="#000" />
<circle cx="415.60" cy="258.50" r="1.6" fill="#000" />
<circle cx="419.60" cy="256.00" r="1.6" fill="#000" />
<circle cx="424.80" cy="256.30" r="1.6" fill="#000" />
<circle cx="419.80" cy="260.60" r="1.6" fill="#000" />
<circle cx="420.20" cy="294.00" r="1.6" fill="#000" />
<line x1="446.2" y1="308.5" x2="472.3" y2="308.5" stroke="#000" stroke-width="0.8" stroke-dasharray="2.4 1.6"/>
<line x1="459.2" y1="300.1" x2="459.2" y2="308.5" stroke="#000" stroke-width="0.8" />
<line x1="451.5" y1="300.1" x2="466.9" y2="300.1" stroke="#000" stroke-width="0.9" />
<circle cx="459.30" cy="289.90" r="1.6" fill="#000" />
<circle cx="454.60" cy="297.00" r="1.6" fill="#000" />
<circle cx="454.60" cy="303.50" r="1.6" fill="#000" />
<circle cx="459.20" cy="304.20" r="1.6" fill="#000" />
<circle cx="464.20" cy="305.00" r="1.6" fill="#000" />
<circle cx="449.70" cy="308.80" r="1.6" fill="#000" />
<circle cx="454.60" cy="311.20" r="1.6" fill="#000" />
<circle cx="459.20" cy="311.20" r="1.6" fill="#000" />
<circle cx="464.20" cy="311.20" r="1.6" fill="#000" />
<circle cx="449.70" cy="315.00" r="1.6" fill="#000" />
<circle cx="469.20" cy="315.00" r="1.6" fill="#000" />
<circle cx="454.60" cy="317.30" r="1.6" fill="#000" />
<circle cx="459.20" cy="317.30" r="1.6" fill="#000" />
<circle cx="464.20" cy="317.30" r="1.6" fill="#000" />
<circle cx="459.20" cy="313.50" r="1.6" fill="#000" />
<line x1="486.2" y1="299.2" x2="512" y2="299.2" stroke="#000" stroke-width="0.8" stroke-dasharray="2.4 1.6"/>
<line x1="498.8" y1="286.5" x2="498.8" y2="299.2" stroke="#000" stroke-width="0.8" />
<line x1="491.0" y1="286.5" x2="506.5" y2="286.5" stroke="#000" stroke-width="0.9" />
<circle cx="498.70" cy="268.20" r="1.6" fill="#000" />
<circle cx="498.70" cy="283.90" r="1.6" fill="#000" />
<circle cx="493.80" cy="291.90" r="1.6" fill="#000" />
<circle cx="498.80" cy="291.90" r="1.6" fill="#000" />
<circle cx="493.80" cy="296.10" r="1.6" fill="#000" />
<circle cx="498.80" cy="296.10" r="1.6" fill="#000" />
<circle cx="503.80" cy="296.10" r="1.6" fill="#000" />
<circle cx="489.20" cy="301.60" r="1.6" fill="#000" />
<circle cx="493.80" cy="305.30" r="1.6" fill="#000" />
<circle cx="498.80" cy="305.30" r="1.6" fill="#000" />
<circle cx="503.80" cy="305.30" r="1.6" fill="#000" />
<circle cx="508.50" cy="307.80" r="1.6" fill="#000" />
<circle cx="493.80" cy="311.20" r="1.6" fill="#000" />
<circle cx="498.80" cy="311.20" r="1.6" fill="#000" />
<circle cx="503.80" cy="311.20" r="1.6" fill="#000" />
<polyline points="457.80,256.10 457.80,251.80 494.10,251.80 494.10,256.10" fill="none" stroke="#000" stroke-width="1.0" stroke-linejoin="miter" />
<text x="456.5" y="247.0" font-size="8.6" font-weight="normal" text-anchor="start" fill="#333" stroke="#333" stroke-width="0.05" ><tspan font-style="italic">P</tspan> = .0143</text>
</svg></body></html>
